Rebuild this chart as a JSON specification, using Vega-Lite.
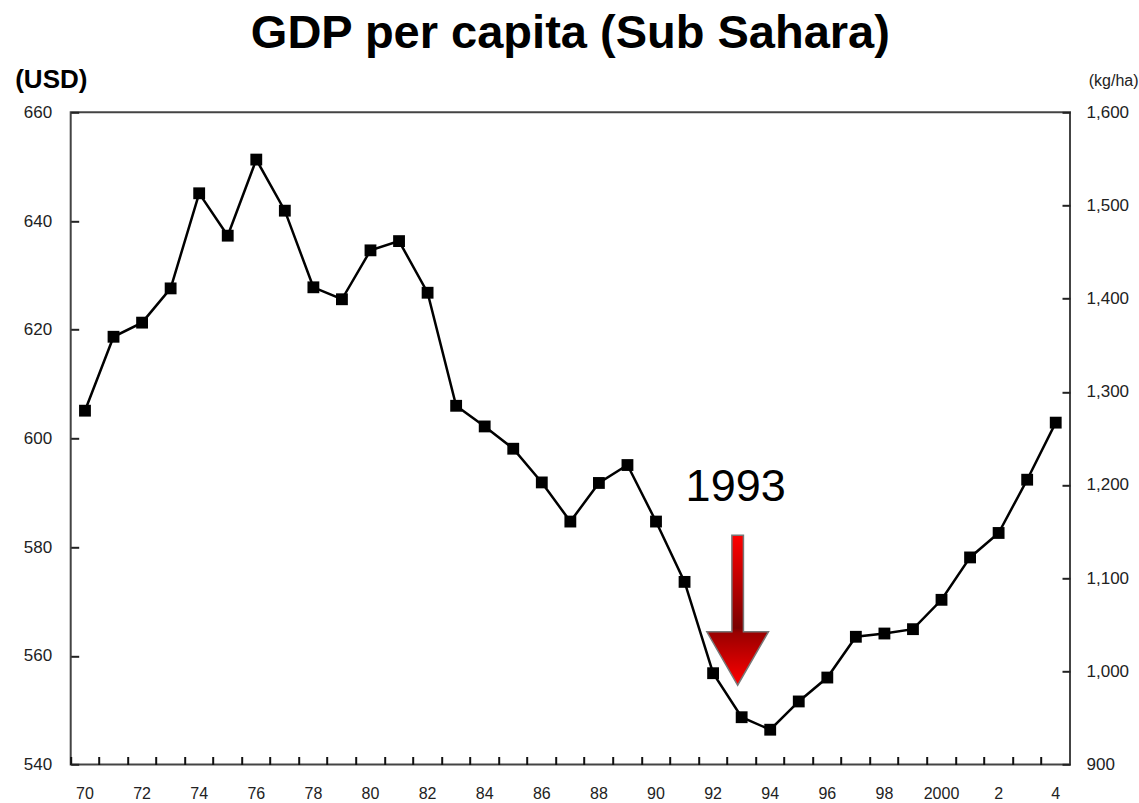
{
  "$schema": "https://vega.github.io/schema/vega-lite/v6.json",
  "width": 999.3,
  "height": 652.2,
  "autosize": {"type": "none"},
  "padding": {"left": 70.7, "top": 112.3, "right": 69, "bottom": 38.5},
  "background": "white",
  "title": {
    "text": "GDP per capita (Sub Sahara)",
    "font": "Liberation Sans",
    "fontSize": 47,
    "fontWeight": "bold",
    "color": "#000000",
    "anchor": "middle",
    "frame": "group",
    "offset": 8
  },
  "config": {
    "view": {"stroke": "#444444", "strokeWidth": 2},
    "axis": {"grid": false, "labelFont": "Liberation Sans", "labelColor": "#222222", "domain": false}
  },
  "datasets": {
    "gdp": [
      {"year": 1970, "gdp": 605.1},
      {"year": 1971, "gdp": 618.7},
      {"year": 1972, "gdp": 621.3},
      {"year": 1973, "gdp": 627.6},
      {"year": 1974, "gdp": 645.1},
      {"year": 1975, "gdp": 637.3},
      {"year": 1976, "gdp": 651.3},
      {"year": 1977, "gdp": 641.9},
      {"year": 1978, "gdp": 627.8},
      {"year": 1979, "gdp": 625.6},
      {"year": 1980, "gdp": 634.6},
      {"year": 1981, "gdp": 636.3},
      {"year": 1982, "gdp": 626.8},
      {"year": 1983, "gdp": 606.0},
      {"year": 1984, "gdp": 602.2},
      {"year": 1985, "gdp": 598.1},
      {"year": 1986, "gdp": 591.9},
      {"year": 1987, "gdp": 584.7},
      {"year": 1988, "gdp": 591.8},
      {"year": 1989, "gdp": 595.1},
      {"year": 1990, "gdp": 584.7},
      {"year": 1991, "gdp": 573.6},
      {"year": 1992, "gdp": 556.8},
      {"year": 1993, "gdp": 548.7},
      {"year": 1994, "gdp": 546.4},
      {"year": 1995, "gdp": 551.6},
      {"year": 1996, "gdp": 556.0},
      {"year": 1997, "gdp": 563.5},
      {"year": 1998, "gdp": 564.1},
      {"year": 1999, "gdp": 564.9},
      {"year": 2000, "gdp": 570.3},
      {"year": 2001, "gdp": 578.1},
      {"year": 2002, "gdp": 582.6},
      {"year": 2003, "gdp": 592.4},
      {"year": 2004, "gdp": 602.9}
    ],
    "arrow": [{"year": 1993, "gdp": 568.4}],
    "note": [{"year": 1993, "gdp": 588.4, "label": "1993"}]
  },
  "layer": [
    {
      "encoding": {
        "x": {
          "field": "year", "type": "ordinal",
          "scale": {"type": "band", "paddingInner": 0, "paddingOuter": 0},
          "axis": {
            "title": null,
            "labelAngle": 0,
            "bandPosition": 0,
            "labelOffset": 0,
            "labelExpr": "toNumber(datum.value) % 2 == 1 ? '' : toNumber(datum.value) == 2000 ? '2000' : toNumber(datum.value) > 2000 ? '' + (toNumber(datum.value) - 2000) : '' + (toNumber(datum.value) - 1900)",
            "labelOverlap": false,
            "labelFontSize": 16,
            "labelPadding": 21,
            "offset": -8,
            "tickSize": 8,
            "tickColor": "#111111",
            "tickWidth": 2
          }
        },
        "y": {
          "field": "gdp", "type": "quantitative",
          "scale": {"domain": [540, 660], "nice": false, "zero": false},
          "axis": {
            "title": "(USD)",
            "titleFont": "Liberation Sans",
            "titleFontSize": 26,
            "titleFontWeight": "bold",
            "titleColor": "#000000",
            "titleAngle": 0,
            "titleAlign": "left",
            "titleBaseline": "middle",
            "titleX": -64,
            "titleY": -33,
            "values": [540, 560, 580, 600, 620, 640, 660],
            "labelFontSize": 17,
            "labelPadding": 19,
            "offset": -8,
            "tickSize": 8,
            "tickColor": "#222222",
            "tickWidth": 2
          }
        }
      },
      "layer": [
        {
          "data": {"name": "gdp"},
          "mark": {"type": "line", "color": "#000000", "strokeWidth": 2.5}
        },
        {
          "data": {"name": "gdp"},
          "mark": {"type": "point", "shape": "square", "filled": true, "size": 140, "color": "#000000", "opacity": 1}
        },
        {
          "data": {"name": "arrow"},
          "mark": {
            "type": "point",
            "shape": "M-0.077,-1L0.077,-1L0.077,0.289L0.411,0.289L0,1L-0.411,0.289L-0.077,0.289Z",
            "size": 22500,
            "filled": true,
            "opacity": 1,
            "xOffset": -4,
            "fill": {
              "gradient": "linear", "x1": 0, "y1": 0, "x2": 0, "y2": 1,
              "stops": [
                {"offset": 0, "color": "#ff0000"},
                {"offset": 0.62, "color": "#7a0000"},
                {"offset": 0.65, "color": "#9a0000"},
                {"offset": 1, "color": "#ff0000"}
              ]
            },
            "stroke": "#777777",
            "strokeWidth": 1.5
          }
        },
        {
          "data": {"name": "note"},
          "mark": {"type": "text", "font": "Liberation Sans", "fontSize": 45, "color": "#000000", "align": "center", "baseline": "alphabetic", "dx": -6},
          "encoding": {"text": {"field": "label"}}
        }
      ]
    },
    {
      "data": {"name": "gdp"},
      "mark": {"type": "point", "opacity": 0, "clip": true},
      "encoding": {
        "y": {
          "field": "gdp", "type": "quantitative",
          "scale": {"domain": [900, 1600], "nice": false, "zero": false},
          "axis": {
            "orient": "right",
            "title": "(kg/ha)",
            "titleFont": "Liberation Sans",
            "titleFontSize": 16,
            "titleFontWeight": "normal",
            "titleColor": "#222222",
            "titleAngle": 0,
            "titleAlign": "right",
            "titleBaseline": "middle",
            "titleX": 76,
            "titleY": -32,
            "values": [900, 1000, 1100, 1200, 1300, 1400, 1500, 1600],
            "format": ",.0f",
            "labelFontSize": 17,
            "labelPadding": 16,
            "offset": -8,
            "tickSize": 8,
            "tickColor": "#222222",
            "tickWidth": 2
          }
        }
      }
    }
  ],
  "resolve": {"scale": {"y": "independent"}}
}
